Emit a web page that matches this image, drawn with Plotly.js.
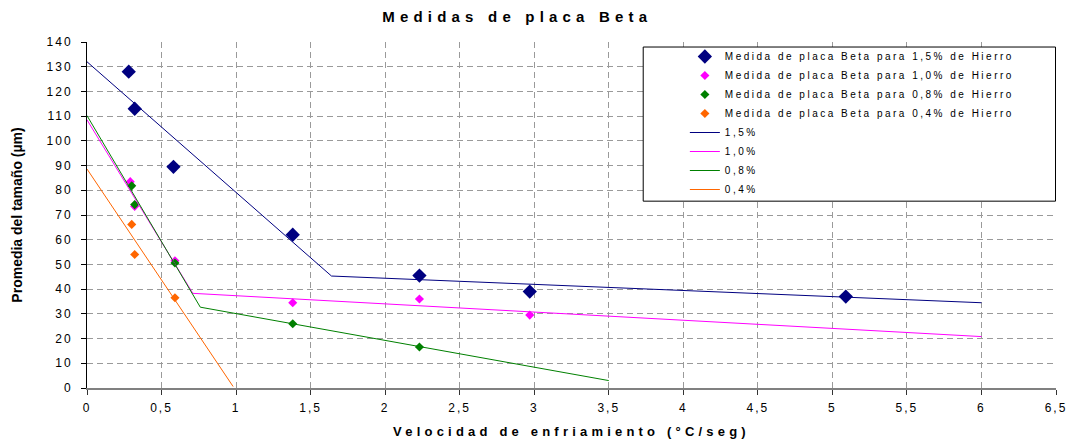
<!DOCTYPE html>
<html>
<head>
<meta charset="utf-8">
<script src="https://cdn.plot.ly/plotly-3.0.1.min.js"></script>
<style>
  html, body { margin: 0; padding: 0; background: #fff; }
  #chart { width: 1071px; height: 443px; }
  .gtitle { letter-spacing: 5.2px; }
  .xtitle { letter-spacing: 4.2px; }
  .legendtext { letter-spacing: 2.5px; }
  .xtick text, .ytick text { letter-spacing: 2px; }
</style>
</head>
<body>
<div id="chart"></div>
<script>
// Measured points
const x15 = [0.28, 0.32, 0.58, 1.38, 2.23, 2.97, 5.09];
const y15 = [128, 113, 89.5, 62, 45.5, 39, 37];
const x10 = [0.29, 0.32, 0.59, 1.38, 2.23, 2.97];
const y10 = [83.5, 73.5, 51.5, 34.5, 36, 29.5];
const x08 = [0.30, 0.32, 0.59, 1.38, 2.23];
const y08 = [81.8, 74.2, 50.6, 26, 16.6];
const x04 = [0.30, 0.32, 0.59];
const y04 = [66.2, 54, 36.5];

// Trend lines
const l15x = [0, 1.64, 6];    const l15y = [132, 45.3, 34.5];
const l10x = [0, 0.71, 6];    const l10y = [108.5, 38.3, 20.8];
const l08x = [0, 0.76, 3.5];  const l08y = [110.2, 32.7, 3];
const l04x = [0, 0.98];       const l04y = [88.6, 0.6];

const pointNames = [
  'Medida de placa Beta para 1,5% de Hierro',
  'Medida de placa Beta para 1,0% de Hierro',
  'Medida de placa Beta para 0,8% de Hierro',
  'Medida de placa Beta para 0,4% de Hierro'
];
const lineNames = ['1,5%', '1,0%', '0,8%', '0,4%'];
const colors = ['#000080', '#FF00FF', '#008000', '#FF6600'];

const FONT = 'Liberation Sans, Arial, sans-serif';

const ptX = [x15, x10, x08, x04], ptY = [y15, y10, y08, y04];
const lnX = [l15x, l10x, l08x, l04x], lnY = [l15y, l10y, l08y, l04y];
const sizes = [11, 7, 7, 7];

const traces = [];
for (let i = 0; i < 4; i++) {
  traces.push({
    type: 'scatter', mode: 'markers', name: pointNames[i],
    x: ptX[i], y: ptY[i],
    marker: { symbol: 'diamond', size: sizes[i], color: colors[i] }
  });
}
for (let i = 0; i < 4; i++) {
  traces.push({
    type: 'scatter', mode: 'lines', name: lineNames[i],
    x: lnX[i], y: lnY[i],
    line: { color: colors[i], width: 1 }
  });
}

const layout = {
  width: 1071, height: 443,
  margin: { l: 87, r: 15, t: 42, b: 55 },
  paper_bgcolor: '#fff', plot_bgcolor: '#fff',
  separators: ', ',
  font: { family: FONT, size: 12, color: '#000' },
  title: {
    text: '<b>Medidas de placa Beta</b>',
    font: { family: FONT, size: 15, color: '#000' },
    x: 0.483, xref: 'container', xanchor: 'center',
    y: 0.962, yref: 'container', yanchor: 'middle'
  },
  xaxis: {
    range: [0, 6.5], dtick: 0.5, tick0: 0,
    showline: true, linecolor: '#808080', linewidth: 2,
    ticks: 'outside', ticklen: 5, tickcolor: '#333', tickwidth: 1,
    showgrid: true, gridcolor: '#9a9a9a', griddash: '6px,4px', gridwidth: 1,
    zeroline: false,
    tickfont: { family: FONT, size: 12, color: '#000' },
    ticklabelstandoff: 3,
    title: { text: '<b>Velocidad de enfriamiento (°C/seg)</b>', font: { family: FONT, size: 13, color: '#000' }, standoff: 12 }
  },
  yaxis: {
    range: [0, 140], dtick: 10, tick0: 0,
    showline: true, linecolor: '#000', linewidth: 1,
    ticks: 'outside', ticklen: 5, tickcolor: '#000', tickwidth: 1,
    showgrid: true, gridcolor: '#9a9a9a', griddash: '6px,4px', gridwidth: 1,
    zeroline: false,
    tickfont: { family: FONT, size: 12, color: '#000' },
    ticklabelstandoff: 6,
    title: { text: '<b>Promedia del tamaño (µm)</b>', font: { family: FONT, size: 14, color: '#000' }, standoff: 20 }
  },
  showlegend: true,
  legend: {
    x: 0.617, xanchor: 'left', y: 1.0, yanchor: 'top',
    bgcolor: 'rgba(0,0,0,0)', borderwidth: 0,
    font: { family: FONT, size: 10, color: '#000' },
    traceorder: 'normal', itemwidth: 30
  },
  shapes: [{
    type: 'rect', xref: 'paper', yref: 'paper', layer: 'above',
    x0: 0.574, x1: 0.9995, y0: 0.54, y1: 0.9855,
    line: { color: '#000', width: 1 }, fillcolor: '#fff'
  }]
};

Plotly.newPlot('chart', traces, layout, { displayModeBar: false, staticPlot: true });
</script>
</body>
</html>
